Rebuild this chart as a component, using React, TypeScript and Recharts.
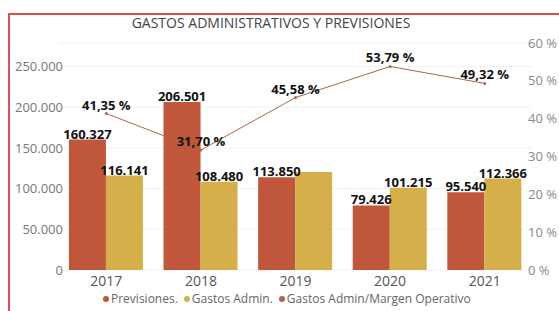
import React from "react";
import {
  ComposedChart,
  Bar,
  Line,
  XAxis,
  YAxis,
  CartesianGrid,
  LabelList,
} from "recharts";

const years = ["2017", "2018", "2019", "2020", "2021"];
const previsiones = [160327, 206501, 113850, 79426, 95540];
const gastosAdmin = [116141, 108480, 120400, 101215, 112366];
const gastosAdminShowLabel = [true, true, false, true, true];
const ratio = [0.4135, 0.317, 0.4558, 0.5379, 0.4932];
const leftTicks = [0, 50000, 100000, 150000, 200000, 250000];
const rightTicks = [0, 0.1, 0.2, 0.3, 0.4, 0.5, 0.6];

const data = years.map((y, i) => ({
  year: y,
  previsiones: previsiones[i],
  gastos: gastosAdmin[i],
  gastosLabel: gastosAdminShowLabel[i] ? gastosAdmin[i] : null,
  ratio: ratio[i],
}));

const C_PREV = "#C0563A";
const C_GAST = "#D4AF4A";
const C_LINE = "#A8684E";
const FONT = "'Open Sans', sans-serif";

const fmtThousands = (v: number) =>
  v == null ? "" : Math.round(v).toString().replace(/\B(?=(\d{3})+(?!\d))/g, ".");
const fmtPct = (v: number) =>
  v == null ? "" : (v * 100).toFixed(2).replace(".", ",") + " %";
const fmtAxisPct = (v: number) => Math.round(v * 100) + " %";

const labelStyle = { fontFamily: FONT, fontSize: 13, fontWeight: 700, fill: "#111" };

const RightTick = (props: any) => {
  const { x, y, payload } = props;
  return (
    <text
      x={x - 4}
      y={y}
      dy="0.355em"
      textAnchor="start"
      fontFamily={FONT}
      fontSize={13}
      fill="#888"
    >
      {fmtAxisPct(payload.value)}
    </text>
  );
};

const LeftTick = (props: any) => {
  const { x, y, payload } = props;
  return (
    <text
      x={x + 4}
      y={y}
      dy="0.355em"
      textAnchor="end"
      fontFamily={FONT}
      fontSize={13}
      fill="#777"
    >
      {fmtThousands(payload.value)}
    </text>
  );
};

export default function App() {
  return (
    <div
      style={{
        position: "absolute",
        left: 0,
        top: 0,
        width: 559,
        height: 311,
        overflow: "hidden",
        background: "#fff",
        fontFamily: FONT,
      }}
    >
      <div
        style={{
          position: "absolute",
          left: 8,
          top: 13,
          width: 620,
          height: 400,
          border: "2px solid #D9534F",
          boxSizing: "border-box",
        }}
      />
      <div
        style={{
          position: "absolute",
          left: 0,
          width: 542,
          top: 13,
          textAlign: "center",
          fontSize: 14,
          color: "#444",
          letterSpacing: 0,
        }}
      >
        GASTOS ADMINISTRATIVOS Y PREVISIONES
      </div>
      <div style={{ position: "absolute", left: 0, top: 0 }}>
        <ComposedChart
          width={559}
          height={311}
          data={data}
          margin={{ top: 43, right: 0, bottom: 0, left: 0 }}
          barCategoryGap="10.5%"
          barGap={0}
        >
          <CartesianGrid
            yAxisId="left"
            vertical={false}
            stroke="#F2F2F2"
            strokeWidth={1}
          />
          <XAxis
            dataKey="year"
            axisLine={false}
            tickLine={false}
            height={41}
            tickSize={0}
            tickMargin={6}
            tick={{ fontFamily: FONT, fontSize: 14, fill: "#555" }}
          />
          <YAxis
            yAxisId="left"
            orientation="left"
            width={59}
            domain={[0, 279000]}
            ticks={leftTicks}
            axisLine={false}
            tickLine={false}
            tickSize={0}
            tickMargin={0}
            tick={<LeftTick />}
            interval={0}
          />
          <YAxis
            yAxisId="right"
            orientation="right"
            width={27}
            domain={[0, 0.6]}
            ticks={rightTicks}
            axisLine={false}
            tickLine={false}
            tickSize={0}
            tickMargin={0}
            tick={<RightTick />}
            interval={0}
          />
          <Line
            yAxisId="right"
            dataKey="ratio"
            stroke={C_LINE}
            strokeWidth={1}
            dot={{ r: 1.5, fill: C_LINE, stroke: "none" }}
            activeDot={false}
            isAnimationActive={false}
          />
          <Bar
            yAxisId="left"
            dataKey="previsiones"
            fill={C_PREV}
            isAnimationActive={false}
          >
            <LabelList
              dataKey="previsiones"
              position="top"
              offset={1}
              formatter={fmtThousands}
              style={labelStyle}
            />
          </Bar>
          <Bar
            yAxisId="left"
            dataKey="gastos"
            fill={C_GAST}
            isAnimationActive={false}
          >
            <LabelList
              dataKey="gastosLabel"
              position="top"
              offset={1}
              formatter={(v: number) => (v == null ? "" : fmtThousands(v))}
              style={labelStyle}
            />
          </Bar>
          <Line
            yAxisId="right"
            dataKey="ratio"
            stroke="none"
            dot={false}
            activeDot={false}
            legendType="none"
            isAnimationActive={false}
          >
            <LabelList
              dataKey="ratio"
              position="top"
              offset={4}
              formatter={fmtPct}
              style={labelStyle}
            />
          </Line>
        </ComposedChart>
      </div>
      <div
        style={{
          position: "absolute",
          left: 103,
          top: 292,
          display: "flex",
          gap: 6,
          fontSize: 12,
          color: "#666",
          whiteSpace: "nowrap",
          lineHeight: "14px",
        }}
      >
        {[
          ["Previsiones.", C_PREV],
          ["Gastos Admin.", C_GAST],
          ["Gastos Admin/Margen Operativo", C_LINE],
        ].map(([t, c]) => (
          <div key={t} style={{ display: "flex", alignItems: "center" }}>
            <span
              style={{
                display: "inline-block",
                width: 6,
                height: 6,
                borderRadius: 3,
                background: c,
                marginRight: 2,
              }}
            />
            {t}
          </div>
        ))}
      </div>
    </div>
  );
}
